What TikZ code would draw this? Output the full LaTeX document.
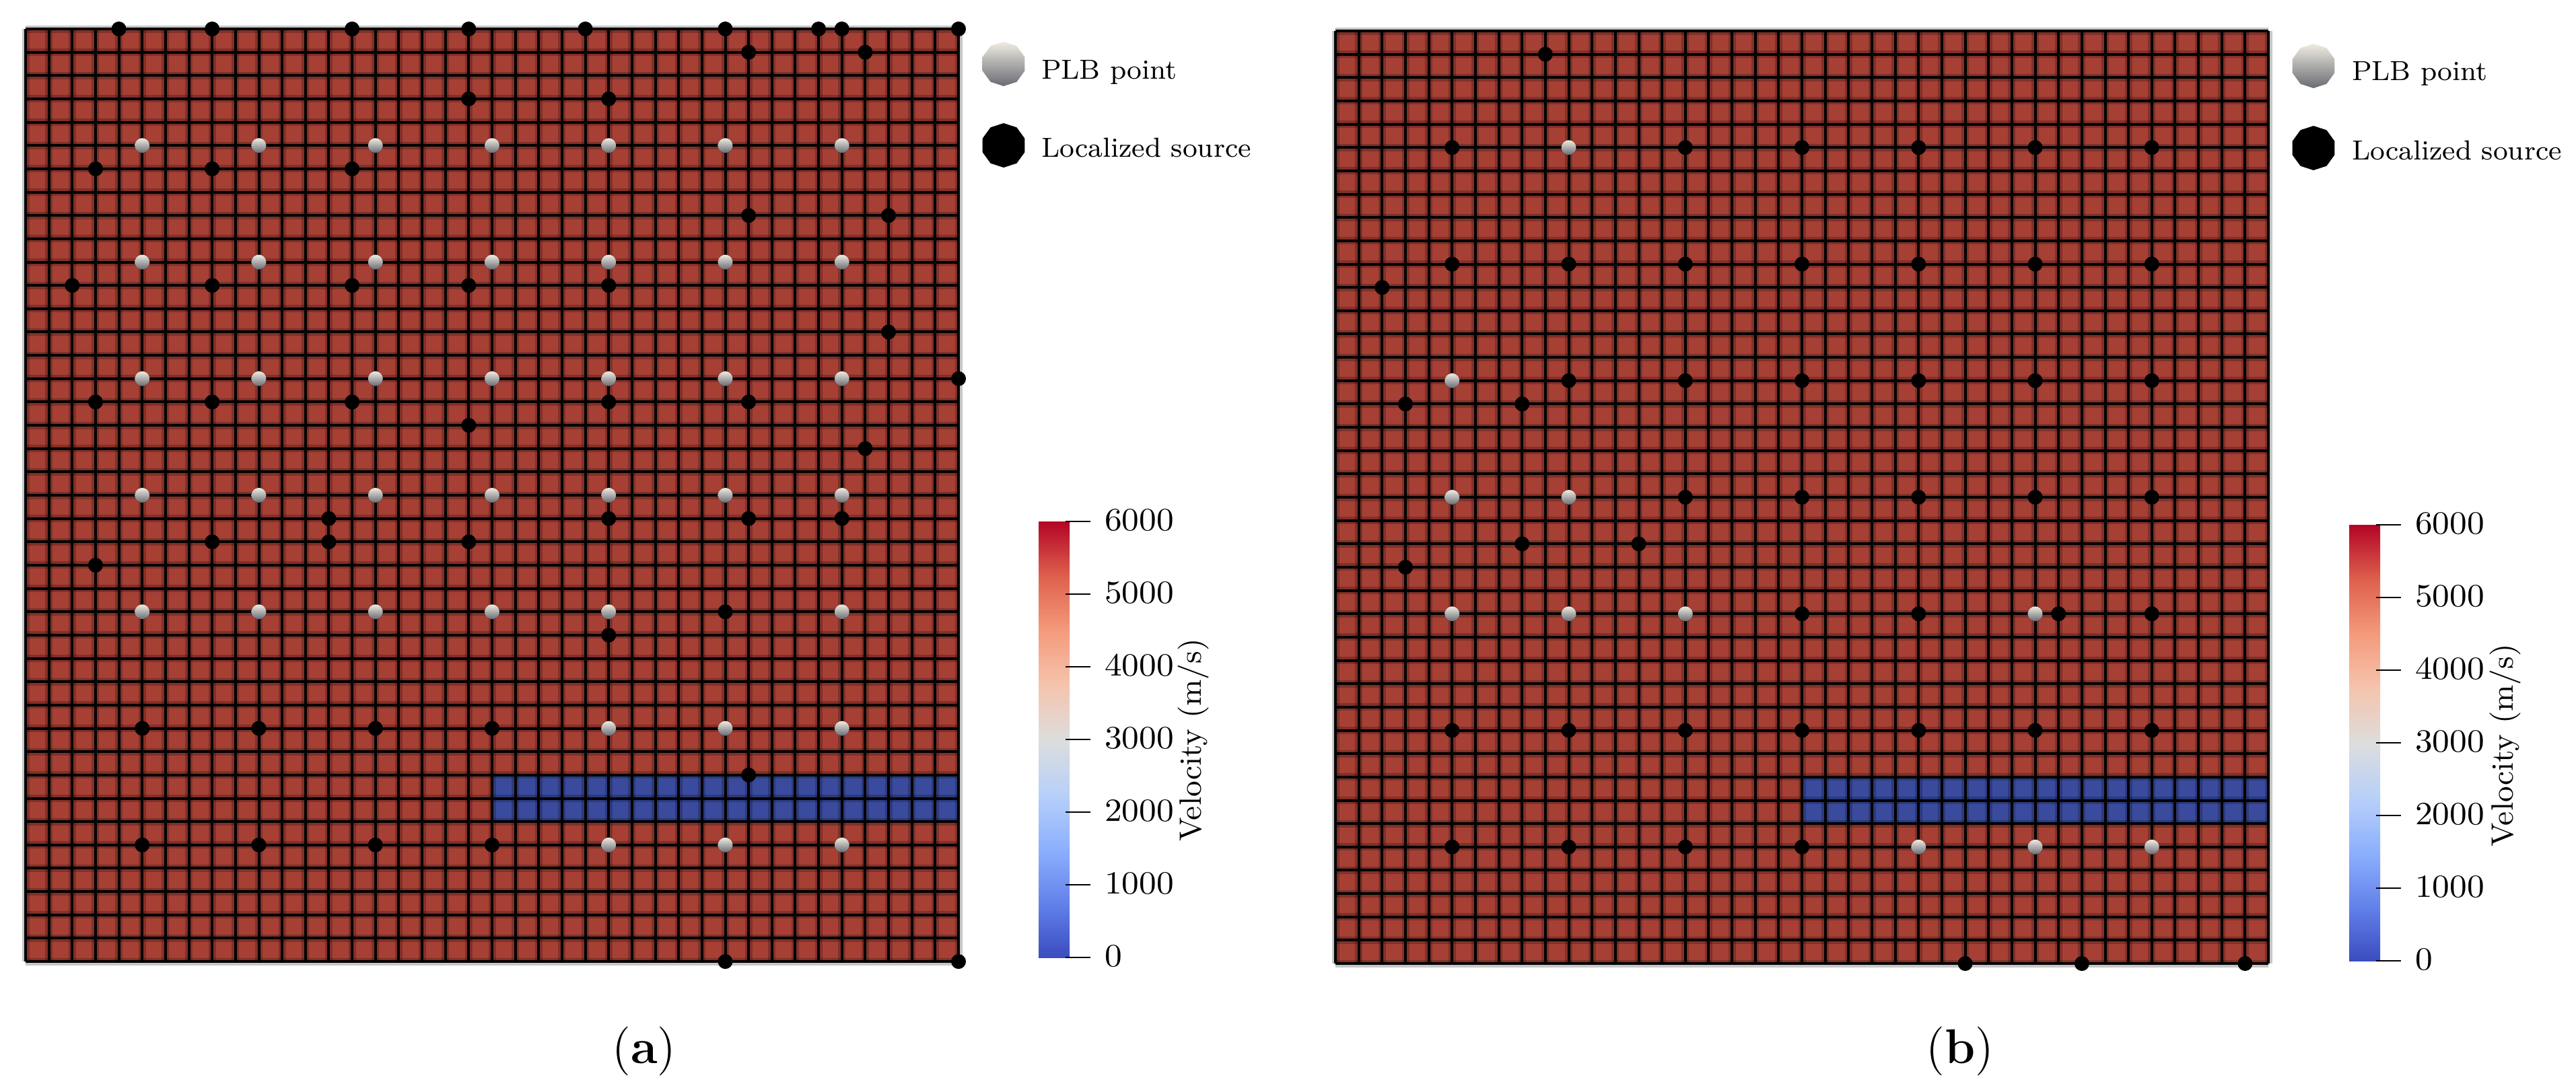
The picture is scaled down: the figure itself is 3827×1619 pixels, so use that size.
\documentclass[tikz,border=0pt]{standalone}
\usetikzlibrary{shapes.geometric}
\definecolor{cellred}{RGB}{166,63,52}
\definecolor{cellblue}{RGB}{58,75,158}
\definecolor{plbtop}{RGB}{240,236,226}
\definecolor{plbbot}{RGB}{105,107,116}
\definecolor{cw0}{RGB}{59,76,192}
\definecolor{cw1}{RGB}{98,130,234}
\definecolor{cw2}{RGB}{141,176,254}
\definecolor{cw3}{RGB}{184,208,249}
\definecolor{cw4}{RGB}{221,221,221}
\definecolor{cw5}{RGB}{245,196,173}
\definecolor{cw6}{RGB}{244,154,123}
\definecolor{cw7}{RGB}{222,96,77}
\definecolor{cw8}{RGB}{180,4,38}
\pgfdeclareverticalshading{coolwarm}{100bp}{color(0bp)=(cw0); color(25bp)=(cw0); color(31.25bp)=(cw1); color(37.5bp)=(cw2); color(43.75bp)=(cw3); color(50bp)=(cw4); color(56.25bp)=(cw5); color(62.5bp)=(cw6); color(68.75bp)=(cw7); color(75bp)=(cw8); color(100bp)=(cw8)}
\begin{document}
\begin{tikzpicture}[x=0.2pt,y=-0.2pt,
  src/.style={fill=black},
  plb/.style={top color=plbtop, bottom color=plbbot},
  gridline/.style={line width=0.8pt, black},
  gridhalo/.style={line width=2.2pt, black, opacity=0.22},
  tickmark/.style={line width=0.35pt, black},
  ticklab/.style={anchor=west, inner sep=0pt, font=\fontsize{9.6}{11}\selectfont},
  vellab/.style={rotate=90, inner sep=0pt, font=\fontsize{9.2}{11}\selectfont},
  leglab/.style={anchor=base west, inner sep=0pt, font=\fontsize{8.2}{10}\selectfont},
  legmark/.style={regular polygon, regular polygon sides=10, shape border rotate=18, minimum size=13.2pt, inner sep=0pt},
  caplab/.style={inner sep=0pt, font=\fontsize{14.5}{17}\selectfont}]
\useasboundingbox (0,0) rectangle (3827,1619);

% ---------- panel (a) ----------
\begin{scope}[xshift=7.6pt, yshift=-8.6pt, x=6.93pt, y=-6.93pt]
  \fill[cellred] (0,0) rectangle (40,40);
  \fill[cellblue] (20,32) rectangle (40,34);
  \foreach \k in {0,...,40} {
    \draw[gridhalo] (\k,0) -- (\k,40);
    \draw[gridhalo] (0,\k) -- (40,\k);
  }
  \foreach \k in {0,...,40} {
    \draw[gridline] (\k,0) -- (\k,40);
    \draw[gridline] (0,\k) -- (40,\k);
  }
  \foreach \i/\j in {5/5,10/5,15/5,20/5,25/5,30/5,35/5,
                     5/10,10/10,15/10,20/10,25/10,30/10,35/10,
                     5/15,10/15,15/15,20/15,25/15,30/15,35/15,
                     5/20,10/20,15/20,20/20,25/20,30/20,35/20,
                     5/25,10/25,15/25,20/25,25/25,35/25,
                     25/30,30/30,35/30,
                     25/35,30/35,35/35}
    \fill[plb] (\i,\j) circle[radius=2.2pt];
  \foreach \i/\j in {4/0,8/0,14/0,19/0,24/0,30/0,34/0,35/0,40/0,
                     31/1,36/1,19/3,25/3,3/6,8/6,14/6,31/8,37/8,
                     2/11,8/11,14/11,19/11,25/11,37/13,40/15,
                     3/16,8/16,14/16,25/16,31/16,19/17,36/18,
                     13/21,25/21,31/21,35/21,8/22,13/22,19/22,3/23,
                     30/25,25/26,5/30,10/30,15/30,20/30,31/32,
                     5/35,10/35,15/35,20/35,30/40,40/40}
    \fill[src] (\i,\j) circle[radius=2.2pt];
\end{scope}

% legend (a)
\node[legmark, plb] (lpa) at (1491,95) {};
\node[leglab] (lpat) at (1546,117) {PLB point};
\node[legmark, fill=black] (lsa) at (1491,216) {};
\node[leglab] (lsat) at (1546,233) {Localized source};

% colorbar (a)
\shade[shading=coolwarm] (1543,775) rectangle (1589,1423);
\foreach \v [count=\n from 0] in {6000,5000,4000,3000,2000,1000,0} {
  \draw[tickmark] (1583,775+108*\n) -- (1620,775+108*\n);
  \node[ticklab] (ta\n) at (1640,773+108*\n) {\scalebox{1.07}[1]{\v}};
}
\node[vellab] (vela) at (1773,1100) {Velocity (m/s)};

% ---------- panel (b) ----------
\begin{scope}[xshift=396.8pt, yshift=-9.2pt, x=6.93pt, y=-6.93pt]
  \fill[cellred] (0,0) rectangle (40,40);
  \fill[cellblue] (20,32) rectangle (40,34);
  \foreach \k in {0,...,40} {
    \draw[gridhalo] (\k,0) -- (\k,40);
    \draw[gridhalo] (0,\k) -- (40,\k);
  }
  \foreach \k in {0,...,40} {
    \draw[gridline] (\k,0) -- (\k,40);
    \draw[gridline] (0,\k) -- (40,\k);
  }
  \foreach \i/\j in {10/5,5/15,5/20,10/20,5/25,10/25,15/25,30/25,25/35,30/35,35/35}
    \fill[plb] (\i,\j) circle[radius=2.2pt];
  \foreach \i/\j in {9/1,5/5,15/5,20/5,25/5,30/5,35/5,
                     5/10,10/10,15/10,20/10,25/10,30/10,35/10,2/11,
                     10/15,15/15,20/15,25/15,30/15,35/15,3/16,8/16,
                     15/20,20/20,25/20,30/20,35/20,8/22,13/22,3/23,
                     20/25,25/25,31/25,35/25,
                     5/30,10/30,15/30,20/30,25/30,30/30,35/30,
                     5/35,10/35,15/35,20/35,27/40,32/40,39/40}
    \fill[src] (\i,\j) circle[radius=2.2pt];
\end{scope}

% legend (b)
\node[legmark, plb] (lpb) at (3437,98) {};
\node[leglab] (lpbt) at (3493,119) {PLB point};
\node[legmark, fill=black] (lsb) at (3437,220) {};
\node[leglab] (lsbt) at (3493,237) {Localized source};

% colorbar (b)
\shade[shading=coolwarm] (3490,780) rectangle (3536,1428);
\foreach \v [count=\n from 0] in {6000,5000,4000,3000,2000,1000,0} {
  \draw[tickmark] (3530,780+108*\n) -- (3567,780+108*\n);
  \node[ticklab] (tb\n) at (3587,778+108*\n) {\scalebox{1.07}[1]{\v}};
}
\node[vellab] (velb) at (3722,1108) {Velocity (m/s)};

% captions
\node[caplab] (capa) at (957,1562) {(\textbf{a})};
\node[caplab] (capb) at (2912,1562) {(\textbf{b})};
\end{tikzpicture}
\end{document}
